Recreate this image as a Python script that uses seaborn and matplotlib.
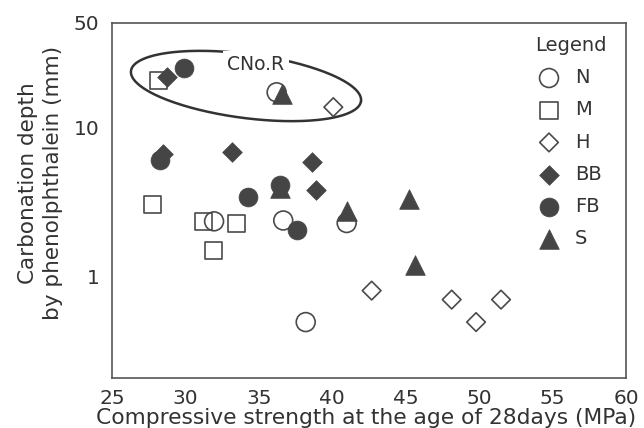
import numpy as np
import pandas as pd
import matplotlib
matplotlib.use("Agg")
import matplotlib.pyplot as plt
import matplotlib.ticker as mticker
import seaborn as sns

# ---- data ----
n_x = [36.21, 31.95, 36.66, 40.98, 38.19]
n_y = [17.1, 2.34, 2.37, 2.28, 0.495]
m_x = [28.15, 27.77, 31.22, 33.49, 31.90]
m_y = [20.4, 3.02, 2.34, 2.25, 1.50]
h_x = [40.07, 42.68, 48.13, 49.79, 51.49]
h_y = [13.6, 0.804, 0.70, 0.495, 0.70]
bb_x = [28.72, 28.49, 33.15, 38.60, 38.89]
bb_y = [21.5, 6.65, 6.83, 5.86, 3.80]
fb_x = [29.87, 28.27, 34.28, 36.44, 37.58]
fb_y = [25.0, 6.0, 3.43, 4.10, 2.06]
s_x = [36.56, 40.98, 45.24, 45.63, 36.44]
s_y = [16.6, 2.76, 3.31, 1.20, 3.9]

x_ticks = [25, 30, 35, 40, 45, 50, 55, 60]
y_ticks = [1, 10, 50]
y_tick_labels = ["1", "10", "50"]
legend_order = ["N", "M", "H", "BB", "FB", "S"]

sns.set_theme(style="white")
plt.rcParams["font.family"] = ["DejaVu Sans"]

W, H = 644, 428
fig = plt.figure(figsize=(W / 100, H / 100), dpi=100)
L, R, T, B = 112, 626, 22.7, 377.7
ax = fig.add_axes([L / W, 1 - B / H, (R - L) / W, (B - T) / H])

dark = "#454545"
edge = "#4a4a4a"
txtc = "#333333"

series = {
    "N": (n_x, n_y, dict(marker="o", s=185, facecolor="none", edgecolor=edge, linewidth=1.2)),
    "M": (m_x, m_y, dict(marker="s", s=150, facecolor="none", edgecolor=edge, linewidth=1.2)),
    "H": (h_x, h_y, dict(marker="D", s=90, facecolor="none", edgecolor=edge, linewidth=1.2)),
    "S": (s_x, s_y, dict(marker="^", s=200, color=dark, edgecolor=dark, linewidth=0.5)),
    "BB": (bb_x, bb_y, dict(marker="D", s=100, color=dark, edgecolor=dark, linewidth=0.5)),
    "FB": (fb_x, fb_y, dict(marker="o", s=185, color=dark, edgecolor=dark, linewidth=0.5)),
}
for i, (name, (xs, ys, kw)) in enumerate(series.items()):
    df = pd.DataFrame({"x": xs, "y": ys})
    sns.scatterplot(data=df, x="x", y="y", ax=ax, label=name, zorder=3 + i, **kw)

ax.set_yscale("log")
ax.set_xlim(25, 60)
ax.set_ylim(0.21, 50)
ax.set_xticks(x_ticks)
ax.set_xticklabels([str(t) for t in x_ticks])
ax.set_yticks(y_ticks)
ax.set_yticklabels(y_tick_labels)
ax.yaxis.set_minor_locator(mticker.LogLocator(base=10, subs=np.arange(2, 10)))
ax.yaxis.set_minor_formatter(mticker.NullFormatter())

for sp in ax.spines.values():
    sp.set_color("#555555")
    sp.set_linewidth(1.2)
ax.tick_params(axis="both", which="major", direction="in", length=7, width=1.1,
               color="#555555", labelsize=14.5, labelcolor=txtc)
ax.tick_params(axis="x", which="major", length=5, pad=8)
ax.tick_params(axis="y", which="major", pad=9)
ax.tick_params(axis="y", which="minor", direction="in", length=4, width=1.0, color="#555555")
ax.tick_params(axis="x", which="minor", bottom=False)

ax.set_xlabel("Compressive strength at the age of 28days (MPa)", fontsize=15.7, color=txtc)
ax.set_ylabel("Carbonation depth\nby phenolphthalein (mm)", fontsize=15.5, color=txtc, linespacing=1.35)
ax.xaxis.set_label_coords(0.494, -0.085)
ax.yaxis.set_label_coords(-0.095, 0.548)

# enclosing curve around the CNo.R group (annotation, in pixel-derived axes coords)
t = np.linspace(0, 2 * np.pi, 300)
cx, cy, a, b, th = 246, 86, 116, 32, np.deg2rad(7.5)
px = cx + a * np.cos(t) * np.cos(th) - b * np.sin(t) * np.sin(th)
py = cy + a * np.cos(t) * np.sin(th) + b * np.sin(t) * np.cos(th)
ax.plot((px - L) / (R - L), (B - py) / (B - T), transform=ax.transAxes,
        color="#333333", lw=1.8, zorder=2, clip_on=False)
ax.text((256 - L) / (R - L), (B - 65) / (B - T), "CNo.R", transform=ax.transAxes,
        ha="center", va="center", fontsize=13.5, color=txtc, zorder=10,
        bbox=dict(boxstyle="square,pad=0.25", fc="white", ec="none"))

handles, labels = ax.get_legend_handles_labels()
hmap = dict(zip(labels, handles))
leg = ax.legend([hmap[k] for k in legend_order], legend_order, title="Legend",
                loc="upper left", bbox_to_anchor=((531 - L) / (R - L), (B - 32) / (B - T)),
                frameon=False, fontsize=14, title_fontsize=14, labelspacing=0.68,
                handlelength=0.95, handletextpad=0.85, borderpad=0.2, borderaxespad=0)
for txt in leg.get_texts():
    txt.set_color(txtc)
leg.get_title().set_color(txtc)

fig.savefig("out.png", dpi=100)
